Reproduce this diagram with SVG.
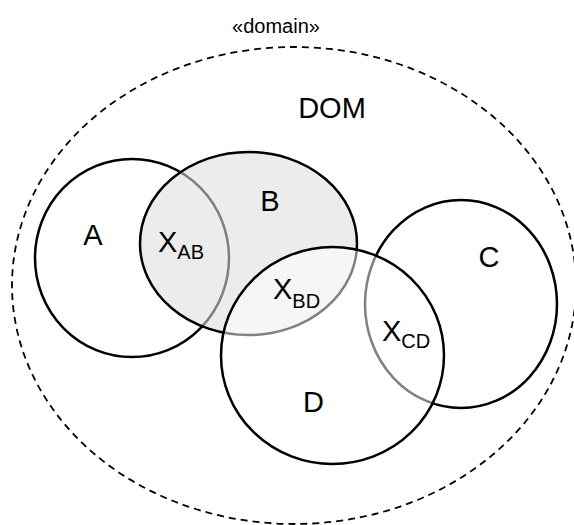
<svg xmlns="http://www.w3.org/2000/svg" width="574" height="525" viewBox="0 0 574 525">
  <style>
    text { font-family: "Liberation Sans", Arial, sans-serif; fill: #000; }
    .lbl { font-size: 29px; text-anchor: middle; }
    .sub { font-size: 20px; }
    .stereo { font-size: 20px; text-anchor: middle; }
    .set { stroke: #000; stroke-width: 2.5; }
    .dom { fill: none; stroke: #000; stroke-width: 1.8; stroke-dasharray: 7 5; }
  </style>

  <rect width="574" height="525" fill="#fff"/>

  <!-- domain boundary -->
  <g id="DOM">
    <text class="stereo" x="276" y="33">«domain»</text>
    <ellipse class="dom" cx="294" cy="285.5" rx="282" ry="238.5"/>
    <text class="lbl" x="332" y="118">DOM</text>
  </g>

  <!-- sets; later fills are translucent so the outlines below read as grey -->
  <g id="A">
    <ellipse class="set" cx="132" cy="258" rx="97" ry="99" fill="#fff"/>
    <text class="lbl" x="93" y="245">A</text>
  </g>

  <g id="B">
    <ellipse class="set" cx="248.5" cy="243.5" rx="108.5" ry="91.5" fill="rgb(222,222,222)" fill-opacity="0.576"/>
    <text class="lbl" x="270" y="211">B</text>
  </g>

  <g id="C">
    <ellipse class="set" cx="461" cy="304" rx="96" ry="104" fill="#fff"/>
    <text class="lbl" x="489" y="267">C</text>
  </g>

  <g id="D">
    <ellipse class="set" cx="332.5" cy="355.5" rx="111.5" ry="108.5" fill="#fff" fill-opacity="0.5"/>
    <text class="lbl" x="313.5" y="412">D</text>
  </g>

  <!-- intersection labels -->
  <g id="X_AB">
    <text x="158" y="252" style="font-size:29px">X<tspan class="sub" dy="7">AB</tspan></text>
  </g>
  <g id="X_BD">
    <text x="273" y="299" style="font-size:29px">X<tspan class="sub" dy="9">BD</tspan></text>
  </g>
  <g id="X_CD">
    <text x="382" y="341" style="font-size:29px">X<tspan class="sub" dy="7">CD</tspan></text>
  </g>
</svg>
